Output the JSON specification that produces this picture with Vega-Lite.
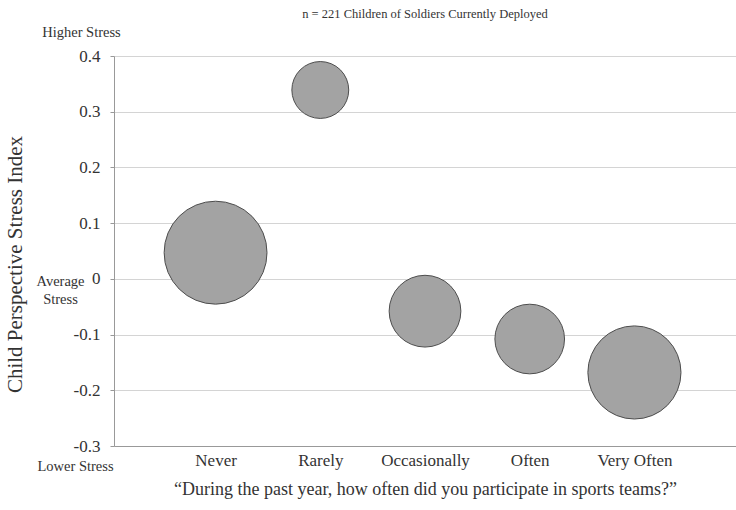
{
  "$schema": "https://vega.github.io/schema/vega-lite/v6.json",
  "width": 622,
  "height": 390,
  "autosize": {"type": "none"},
  "padding": {"left": 114, "top": 56, "right": 0, "bottom": 64},
  "background": "white",
  "config": {"view": {"stroke": null}, "font": "Liberation Serif"},
  "title": {"text": "n = 221 Children of Soldiers Currently Deployed", "fontSize": 12.5, "fontWeight": "normal", "color": "#333333", "offset": 4, "frame": "group", "font": "Liberation Serif"},
  "data": {"values": [
    {"response": "Never", "stress": 0.047, "n": 72},
    {"response": "Rarely", "stress": 0.339, "n": 22},
    {"response": "Occasionally", "stress": -0.058, "n": 35},
    {"response": "Often", "stress": -0.108, "n": 33},
    {"response": "Very Often", "stress": -0.168, "n": 59}
  ]},
  "layer": [
    {
      "mark": {"type": "circle", "opacity": 1, "fill": "#a3a3a3", "stroke": "#4d4d4d", "strokeWidth": 1},
      "encoding": {
        "x": {"field": "response", "type": "nominal", "sort": ["Never", "Rarely", "Occasionally", "Often", "Very Often"],
          "scale": {"type": "point", "padding": 0.97},
          "axis": {"title": "“During the past year, how often did you participate in sports teams?”", "labelAngle": 0, "ticks": false, "domain": true, "domainColor": "#999999", "grid": false, "labelFont": "Liberation Serif", "labelFontSize": 17, "labelPadding": 6, "labelColor": "#333333", "titleFont": "Liberation Serif", "titleFontSize": 18, "titleFontWeight": "normal", "titleColor": "#333333", "titlePadding": 12}},
        "y": {"field": "stress", "type": "quantitative", "scale": {"domain": [-0.3, 0.4]},
          "axis": {"title": "Child Perspective Stress Index", "values": [-0.3, -0.2, -0.1, 0, 0.1, 0.2, 0.3, 0.4], "labelExpr": "datum.value == 0 ? '0' : replace(format(datum.value, '.1f'), '\u2212', '-')", "labelFont": "Liberation Serif", "labelFontSize": 17, "labelColor": "#333333", "labelPadding": 10, "tickSize": 4, "tickColor": "#999999", "domainColor": "#999999", "grid": true, "gridColor": "#d4d4d4", "titleFont": "Liberation Serif", "titleFontSize": 21, "titleFontWeight": "normal", "titleColor": "#333333", "titleX": -99, "titleY": 208, "titleAngle": -90, "titleBaseline": "middle", "titleAlign": "center", "labelOverlap": false}},
        "size": {"field": "n", "type": "quantitative", "scale": {"domain": [0, 100], "range": [0, 14700], "nice": false, "zero": true}, "legend": null}
      }
    },
    {
      "mark": {"type": "point", "opacity": 0},
      "encoding": {
        "y": {"field": "stress", "type": "quantitative", "scale": {"domain": [-0.3, 0.4]},
          "axis": {"orient": "left", "values": [0.4, 0, -0.3], "title": null, "domain": false, "ticks": false, "grid": false, "tickSize": 0,
            "labelExpr": "datum.value > 0.2 ? 'Higher Stress' : datum.value < -0.2 ? 'Lower Stress' : ['Average', 'Stress']",
            "labelAlign": "center", "labelBaseline": "middle",
            "labelPadding": {"expr": "datum.value > 0.2 ? 33 : datum.value < -0.2 ? 39 : 54"},
            "labelOffset": {"expr": "datum.value > 0.2 ? -24 : datum.value < -0.2 ? 20 : 3"},
            "labelFont": "Liberation Serif", "labelFontSize": 14.5, "labelLineHeight": 18, "labelColor": "#333333", "labelOverlap": false}}
      }
    }
  ],
  "resolve": {"axis": {"y": "independent"}}
}
